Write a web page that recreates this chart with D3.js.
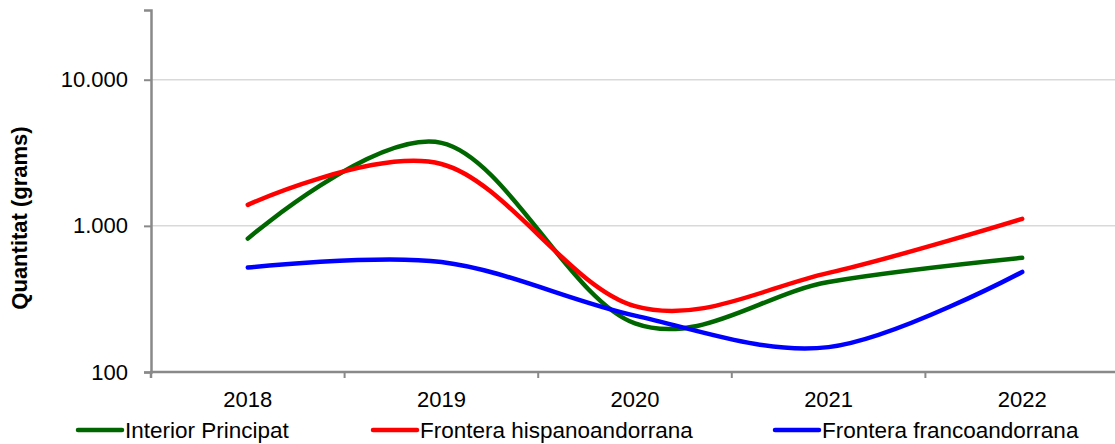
<!DOCTYPE html>
<html>
<head>
<meta charset="utf-8">
<script src="https://cdn.jsdelivr.net/npm/d3@7"></script>
<style>
  body { margin: 0; background: #fff; }
  text { font-family: "Liberation Sans", Arial, sans-serif; fill: #000; }
</style>
</head>
<body>
<div id="chart"></div>
<script>
// chart data (grams, log scale)
var years = ["2018", "2019", "2020", "2021", "2022"];
var interiorPrincipat = [818, 3700, 215, 413, 604];
var fronteraHispano = [1393, 2650, 282, 477, 1117];
var fronteraFranco = [518, 566, 243, 148, 484];
var yTicks = [100, 1000, 10000];
var seriesNames = ["Interior Principat", "Frontera hispanoandorrana", "Frontera francoandorrana"];
var seriesColors = ["#006600", "#ff0000", "#0000ff"];

var width = 1115, height = 444;

var svg = d3.select("#chart").append("svg")
    .attr("width", width)
    .attr("height", height);

var x = d3.scaleBand()
    .domain(years)
    .range([151, 151 + 968]);

var y = d3.scaleLog()
    .domain([100, 30000])
    .range([372, 10]);

// gridlines
svg.append("g")
    .selectAll("line")
    .data(yTicks.filter(function(d) { return d > 100; }))
    .enter().append("line")
    .attr("x1", 151)
    .attr("x2", width)
    .attr("y1", function(d) { return y(d); })
    .attr("y2", function(d) { return y(d); })
    .attr("stroke", "#d9d9d9")
    .attr("stroke-width", 1.5);

// y axis
var fmt = function(d) { return d3.format(",")(d).replace(/,/g, "."); };
var yAxis = svg.append("g")
    .attr("transform", "translate(151,0)")
    .call(d3.axisLeft(y).tickValues(yTicks).tickFormat(fmt).tickSizeOuter(0).tickSize(7).tickPadding(16));
yAxis.select(".domain").attr("stroke", "#898989").attr("stroke-width", 2.5);
yAxis.selectAll(".tick line").attr("stroke", "#898989").attr("stroke-width", 2);
yAxis.selectAll(".tick text")
    .style("font-family", "'Liberation Sans', Arial, sans-serif")
    .style("font-size", "22px")
    .attr("fill", "#000");

// x axis
var xAxis = svg.append("g")
    .attr("transform", "translate(0,372)")
    .call(d3.axisBottom(x).tickSize(0).tickPadding(19));
xAxis.select(".domain").remove();
xAxis.append("line")
    .attr("x1", 150)
    .attr("x2", width)
    .attr("stroke", "#898989")
    .attr("stroke-width", 2.5);
xAxis.selectAll(".boundary")
    .data(years.slice(1))
    .enter().append("line")
    .attr("x1", function(d) { return x(d); })
    .attr("x2", function(d) { return x(d); })
    .attr("y1", 0)
    .attr("y2", 6)
    .attr("stroke", "#898989")
    .attr("stroke-width", 2);
xAxis.append("line")
    .attr("x1", 151).attr("x2", 151)
    .attr("y1", 0).attr("y2", 6)
    .attr("stroke", "#898989")
    .attr("stroke-width", 2.5);
xAxis.selectAll(".tick text")
    .style("font-family", "'Liberation Sans', Arial, sans-serif")
    .style("font-size", "22px")
    .attr("fill", "#000");

// y axis title
svg.append("text")
    .attr("transform", "translate(27,218) rotate(-90)")
    .attr("text-anchor", "middle")
    .style("font-size", "22px")
    .style("font-weight", "bold")
    .text("Quantitat (grams)");

// lines
var allSeries = [interiorPrincipat, fronteraHispano, fronteraFranco];
var line = d3.line()
    .x(function(d, i) { return x(years[i]) + x.bandwidth() / 2; })
    .y(function(d) { return y(d); })
    .curve(d3.curveCardinal.tension(0));

svg.append("g")
    .selectAll("path")
    .data(allSeries)
    .enter().append("path")
    .attr("d", line)
    .attr("fill", "none")
    .attr("stroke", function(d, i) { return seriesColors[i]; })
    .attr("stroke-width", 4.5)
    .attr("stroke-linecap", "round");

// legend
var legendX = [77, 372, 774];
var legend = svg.append("g")
    .selectAll("g")
    .data(seriesNames)
    .enter().append("g")
    .attr("transform", function(d, i) { return "translate(" + legendX[i] + ",430)"; });
legend.append("line")
    .attr("x1", 1).attr("x2", 45)
    .attr("stroke", function(d, i) { return seriesColors[i]; })
    .attr("stroke-width", 4.5)
    .attr("stroke-linecap", "round");
legend.append("text")
    .attr("x", 48)
    .attr("y", 8)
    .style("font-size", "22.5px")
    .text(function(d) { return d; });
</script>
</body>
</html>
